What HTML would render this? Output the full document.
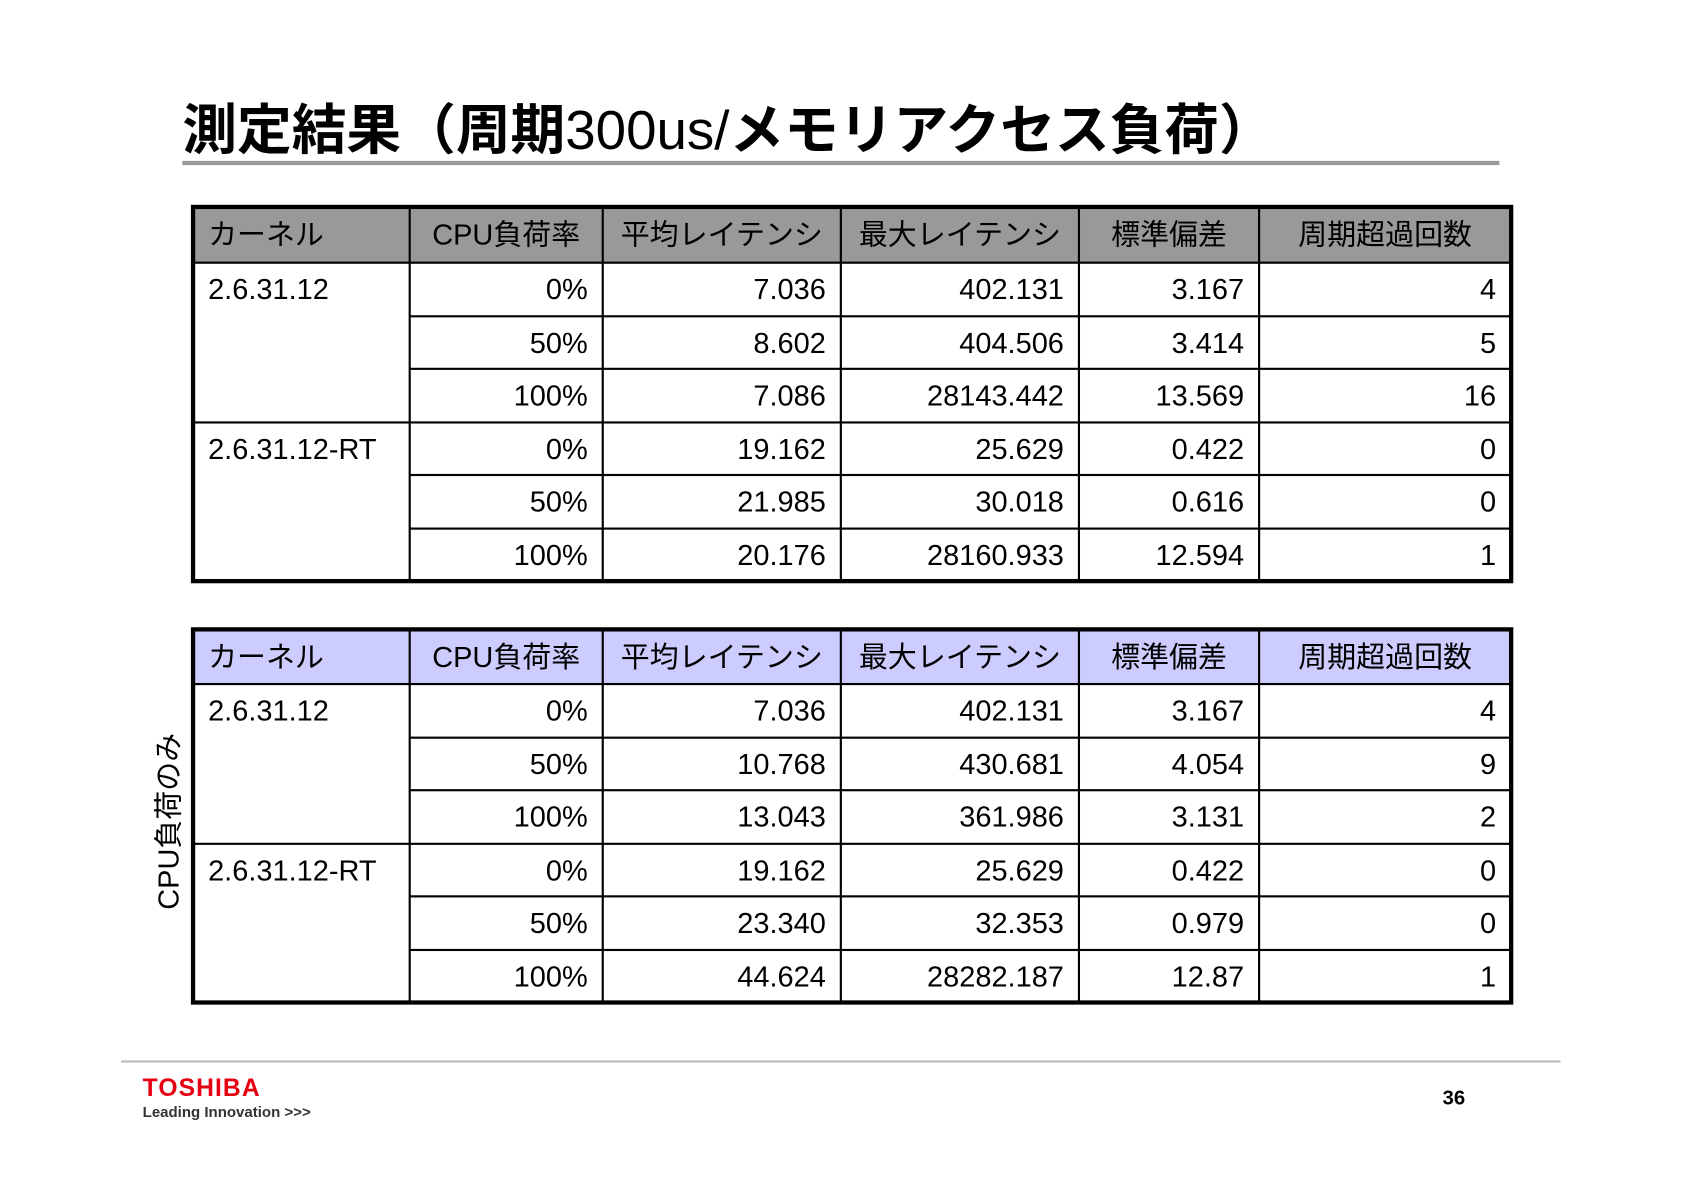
<!DOCTYPE html>
<html><head><meta charset="utf-8">
<style>
html,body{margin:0;padding:0;background:#fff;}
body{width:1684px;height:1190px;overflow:hidden;position:relative;}
#stage{position:absolute;left:0;top:0;width:1570px;height:1110px;transform:scale(1.0725,1.0722);transform-origin:0 0;font-family:"Liberation Sans","Noto Sans CJK JP",sans-serif;color:#000;}
.abs{position:absolute;}
.cell{position:absolute;box-sizing:border-box;font-size:27px;line-height:1;white-space:nowrap;}
</style></head><body>
<div id="stage">
  <div class="abs" style="left:170px;top:80px;font-size:51px;font-weight:bold;letter-spacing:0px;white-space:nowrap;">測定結果（周期<span style="font-weight:normal">300us/</span>メモリアクセス負荷）</div>
  <div class="abs" style="left:170px;top:150px;width:1228px;height:4px;background:#999;"></div>
  <div id="t1" class="abs"></div>
  <div id="t2" class="abs"></div>
  <div class="abs" style="left:155px;top:766px;font-size:27px;white-space:nowrap;transform:translate(-50%,-50%) rotate(-90deg);">CPU負荷のみ</div>
  <div class="abs" style="left:113px;top:989px;width:1342px;height:2px;background:#bbb;"></div>
  <div class="abs" style="left:133px;top:1001px;font-size:23px;font-weight:bold;color:#e60012;letter-spacing:1px;">TOSHIBA</div>
  <div class="abs" style="left:133px;top:1029px;font-size:14px;font-weight:bold;color:#333;">Leading Innovation &gt;&gt;&gt;</div>
  <div class="abs" style="left:1345px;top:1014px;font-size:19px;font-weight:bold;">36</div>
</div>
<script>
const headers=["カーネル","CPU負荷率","平均レイテンシ","最大レイテンシ","標準偏差","周期超過回数"];
const kernels=["2.6.31.12","2.6.31.12-RT"];
const loads=["0%","50%","100%"];
const avg1=["7.036","8.602","7.086","19.162","21.985","20.176"];
const max1=["402.131","404.506","28143.442","25.629","30.018","28160.933"];
const std1=["3.167","3.414","13.569","0.422","0.616","12.594"];
const over1=["4","5","16","0","0","1"];
const avg2=["7.036","10.768","13.043","19.162","23.340","44.624"];
const max2=["402.131","430.681","361.986","25.629","32.353","28282.187"];
const std2=["3.167","4.054","3.131","0.422","0.979","12.87"];
const over2=["4","9","2","0","0","1"];

const cols=[180,382,562,784,1006,1174,1409];
function build(id,top,hdrH,rowH,hdrBg,avg,mx,sd,ov){
  const t=document.getElementById(id);
  const W=cols[6]-cols[0], H=hdrH+rowH*6;
  t.style.left=cols[0]+'px';t.style.top=top+'px';t.style.width=W+'px';t.style.height=H+'px';
  const hb=document.createElement('div');
  
  
  hb.style.cssText=`position:absolute;left:0;top:0;width:${W}px;height:${hdrH}px;background:${hdrBg};`;
  t.appendChild(hb);
  function line(x,y,w,h,name){const d=document.createElement('div');
    
    
    d.style.cssText=`position:absolute;left:${x}px;top:${y}px;width:${w}px;height:${h}px;background:#000;`;t.appendChild(d);}
  for(let i=1;i<6;i++) line(cols[i]-cols[0]-1,0,2,H,'column-divider');
  line(0,hdrH-1,W,2,'row-divider');
  for(let r=1;r<6;r++){const y=hdrH+rowH*r-1; line(r===3?0:cols[1]-cols[0],y,r===3?W:W-(cols[1]-cols[0]),2,'row-divider');}
  const ob=document.createElement('div');
  
  
  ob.style.cssText=`position:absolute;left:-2px;top:-2px;width:${W+4}px;height:${H+4}px;border:4px solid #000;box-sizing:border-box;`;
  t.appendChild(ob);
  function cell(txt,c,y,h,right,name){const d=document.createElement('div');d.className='cell';
    
    
    const x=cols[c]-cols[0];const w=cols[c+1]-cols[c];
    d.style.left=x+'px';d.style.top=y+'px';d.style.width=w+'px';d.style.height=h+'px';
    d.style.padding=right?'12px 14px 0 0':'12px 0 0 14px';d.style.textAlign=right?'right':'left';
    d.textContent=txt;t.appendChild(d);}
  headers.forEach((h,i)=>{const d=document.createElement('div');d.className='cell';
    
    
    d.style.left=(cols[i]-cols[0])+'px';d.style.top='0px';d.style.width=(cols[i+1]-cols[i])+'px';d.style.height=hdrH+'px';
    d.style.paddingTop='13px';d.style.textAlign=i===0?'left':'center';if(i===0)d.style.paddingLeft='14px';
    d.textContent=h;t.appendChild(d);});
  for(let r=0;r<6;r++){const y=hdrH+rowH*r;
    if(r%3===0) cell(kernels[r/3],0,y,rowH,false,'kernel-cell');
    cell(loads[r%3],1,y,rowH,true,'load-cell');
    cell(avg[r],2,y,rowH,true,'avg-latency-cell');
    cell(mx[r],3,y,rowH,true,'max-latency-cell');
    cell(sd[r],4,y,rowH,true,'stddev-cell');
    cell(ov[r],5,y,rowH,true,'overrun-cell');}
}
build('t1',193,52,49.5,'#999999',avg1,max1,std1,over1);
build('t2',587,51,49.5,'#ccccff',avg2,max2,std2,over2);
</script>
</body></html>
